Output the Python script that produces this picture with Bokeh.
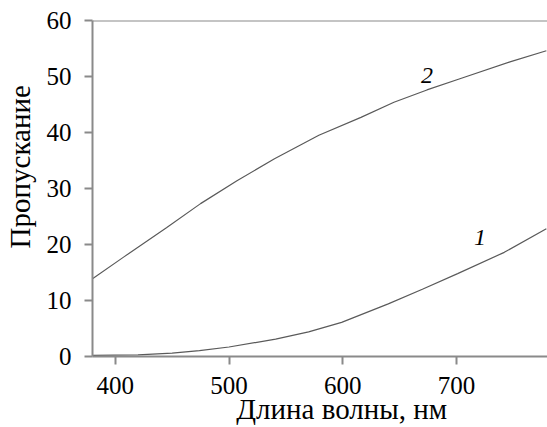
from bokeh.plotting import figure
from bokeh.models import Range1d, Span, FixedTicker, Label
from bokeh.embed import file_html
from bokeh.resources import INLINE

wl1 = [380, 420, 450, 474, 500, 541, 570, 599, 640, 670, 701, 742, 779]
curve1 = [0.2, 0.3, 0.6, 1.05, 1.7, 3.1, 4.4, 6.1, 9.4, 12.0, 14.8, 18.6, 22.8]
wl2 = [380, 407, 445, 475, 507, 540, 579, 616, 645, 674, 703, 747, 779]
curve2 = [13.9, 17.7, 23.0, 27.3, 31.4, 35.3, 39.5, 42.7, 45.4, 47.6, 49.6, 52.6, 54.6]
xticks = [400, 500, 600, 700]
yticks = [0, 10, 20, 30, 40, 50, 60]
x_title = "Длина волны, нм"
y_title = "Пропускание"

FONT = "Liberation Serif"
GRAY = "#8a8a8a"
PAD = "\u00a0" * 6

p = figure(width=547, height=427, output_backend="svg", toolbar_location=None,
           x_range=Range1d(380, 780), y_range=Range1d(0, 60),
           min_border_left=90, min_border_right=0, min_border_top=20, min_border_bottom=71)
p.outline_line_color = None
p.xgrid.visible = False
p.ygrid.visible = False
p.background_fill_color = "white"

for ax in (p.xaxis[0], p.yaxis[0]):
    ax.axis_line_color = GRAY
    ax.axis_line_width = 2
    ax.major_tick_line_color = GRAY
    ax.major_tick_line_width = 2
    ax.major_tick_out = 8
    ax.major_tick_in = 0
    ax.minor_tick_line_color = None
    ax.major_label_text_font = FONT
    ax.major_label_text_font_size = "25px"
    ax.major_label_text_color = "black"
    ax.axis_label_text_font = FONT
    ax.axis_label_text_font_size = "29px"
    ax.axis_label_text_font_style = "normal"
    ax.axis_label_text_color = "black"

p.xaxis.ticker = FixedTicker(ticks=xticks)
p.yaxis.ticker = FixedTicker(ticks=yticks)
p.xaxis.axis_label = PAD + x_title
p.yaxis.axis_label = PAD + y_title
p.xaxis.major_label_standoff = 12
p.yaxis.major_label_standoff = 13
p.xaxis.axis_label_standoff = -4
p.yaxis.axis_label_standoff = 8

p.add_layout(Span(location=60, dimension="width", line_color=GRAY, line_width=2))

p.line(wl1, curve1, line_color="#5a5a5a", line_width=1.2)
p.line(wl2, curve2, line_color="#5a5a5a", line_width=1.2)

p.add_layout(Label(x=720.6, y=21.2, text="1", text_font=FONT, text_font_size="24px",
                   text_font_style="italic", text_align="center", text_baseline="middle",
                   text_color="black"))
p.add_layout(Label(x=674, y=50.2, text="2", text_font=FONT, text_font_size="24px",
                   text_font_style="italic", text_align="center", text_baseline="middle",
                   text_color="black"))

open("out.html", "w").write(file_html(p, INLINE))
